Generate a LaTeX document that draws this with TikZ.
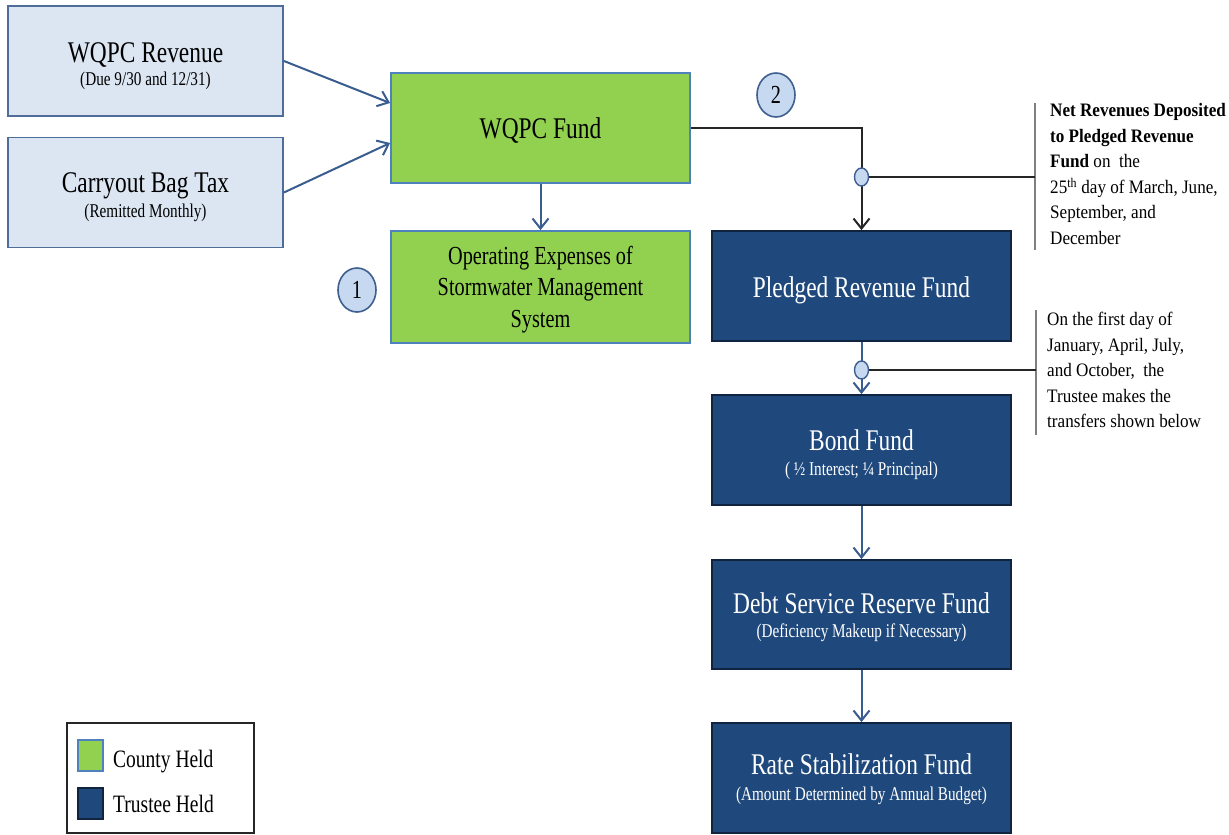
\documentclass[tikz,border=0pt]{standalone}
\usepackage{fontspec}
\setmainfont{Liberation Serif}[FakeStretch=0.78]
\newfontfamily\annfont{Liberation Serif}[FakeStretch=0.9]
\usetikzlibrary{arrows.meta,shapes.geometric}
\definecolor{lightfill}{HTML}{DCE6F2}
\definecolor{lightedge}{HTML}{4E6D98}
\definecolor{greenfill}{HTML}{92D050}
\definecolor{greenedge}{HTML}{4F81BD}
\definecolor{navy}{HTML}{1F497D}
\definecolor{navyedge}{HTML}{10243F}
\definecolor{circfill}{HTML}{C6D9F1}
\definecolor{circedge}{HTML}{3F5F8F}
\definecolor{arrowblue}{HTML}{3A5D8F}
\definecolor{darkline}{HTML}{262626}
\definecolor{barline}{HTML}{808080}
\tikzset{
  box/.style={rectangle, inner sep=0pt, line width=1.8pt},
  lbox/.style={box, fill=lightfill, draw=lightedge, minimum width=275pt, minimum height=110pt},
  gbox/.style={box, fill=greenfill, draw=greenedge, minimum width=299pt, minimum height=111pt},
  nbox/.style={box, fill=navy, draw=navyedge, minimum width=299pt, minimum height=110pt},
  title/.style={inner sep=0pt, anchor=base, font=\fontsize{30}{34}\selectfont},
  sub/.style={inner sep=0pt, anchor=base, font=\fontsize{19.5}{22}\selectfont},
  optext/.style={inner sep=0pt, anchor=base, font=\fontsize{26}{30}\selectfont},
  numcirc/.style={ellipse, fill=circfill, draw=circedge, line width=1.6pt, minimum width=38pt, minimum height=44pt, inner sep=0pt, font=\fontsize{26}{28}\selectfont},
  junc/.style={ellipse, fill=circfill, draw=circedge, line width=1.4pt, minimum width=14pt, minimum height=18pt, inner sep=0pt},
  bluearrow/.style={draw=arrowblue, line width=2pt, -{Straight Barb[length=10pt,width=16pt,line width=2pt]}},
  blackarrow/.style={draw=darkline, line width=2pt, -{Straight Barb[length=10pt,width=16pt,line width=2pt]}},
  hline/.style={draw=darkline, line width=1.8pt},
  bar/.style={draw=barline, line width=1.5pt},
  ann/.style={inner sep=0pt, anchor=north west, align=left, font=\annfont\fontsize{19}{25.5}\selectfont},
  legtext/.style={inner sep=0pt, anchor=base west, font=\fontsize{25}{28}\selectfont}
}
\begin{document}
\begin{tikzpicture}[x=1pt,y=-1pt]
\useasboundingbox[fill=white] (0,0) rectangle (1229,835);

% source boxes
\node[lbox] (rev) at (145.5,61) {};
\node[title] (trev) at (145.5,62) {WQPC Revenue};
\node[sub] (srev) at (145.5,85) {(Due 9/30 and 12/31)};
\node[lbox] (bag) at (145.5,192.5) {};
\node[title] (tbag) at (145.5,192) {Carryout Bag Tax};
\node[sub] (sbag) at (145.5,217) {(Remitted Monthly)};

% county boxes
\node[gbox, minimum height=110pt] (fund) at (540.5,128) {};
\node[title] (tfund) at (540.5,138) {WQPC Fund};
\node[gbox, minimum height=112pt] (opex) at (540.5,287) {};
\node[optext] (op1) at (540.5,264) {Operating Expenses of};
\node[optext] (op2) at (540.5,295.5) {Stormwater Management};
\node[optext] (op3) at (540.5,327) {System};

% trustee boxes
\node[nbox] (pledged) at (861.5,286) {};
\node[title, text=white] (tpledged) at (861.5,297) {Pledged Revenue Fund};
\node[nbox] (bond) at (861.5,450) {};
\node[title, text=white] (tbond) at (861.5,450) {Bond Fund};
\node[sub, text=white] (sbond) at (861.5,475) {( \textonehalf{} Interest; \textonequarter{}  Principal)};
\node[nbox, minimum height=109pt] (debt) at (861.5,614.5) {};
\node[title, text=white] (tdebt) at (861.5,613) {Debt Service Reserve Fund};
\node[sub, text=white] (sdebt) at (861.5,637) {(Deficiency Makeup if Necessary)};
\node[nbox] (rate) at (861.5,778) {};
\node[title, text=white] (trate) at (861.5,774) {Rate Stabilization Fund};
\node[sub, text=white] (srate) at (861.5,800) {(Amount Determined by Annual Budget)};

% numbered circles
\node[numcirc] (c1) at (357,290) {1};
\node[numcirc] (c2) at (776,95) {2};

% connectors
\draw[bluearrow] (rev.east) -- ([yshift=25pt]fund.west);
\draw[bluearrow] (bag.east) -- ([yshift=-15pt]fund.west);
\draw[bluearrow] (fund.south) -- (opex.north);
\draw[blackarrow] (fund.east) -| (pledged.north);
\draw[bluearrow] (pledged.south) -- (bond.north);
\draw[bluearrow] (bond.south) -- (debt.north);
\draw[bluearrow] (debt.south) -- (rate.north);

% junctions and annotation brackets
\coordinate (b1t) at (1035,103);
\coordinate (b1m) at (1035,177);
\coordinate (b1b) at (1035,250);
\coordinate (b2t) at (1036,310);
\coordinate (b2m) at (1036,370);
\coordinate (b2b) at (1036,435);
\draw[bar] (b1t) -- (b1b);
\draw[bar] (b2t) -- (b2b);
\node[junc] (j1) at (861.5,177) {};
\node[junc] (j2) at (861.5,370) {};
\draw[hline] (j1.east) -- (b1m);
\draw[hline] (j2.east) -- (b2m);

\node[ann] (ann1) at (1050,103.5) {\textbf{Net Revenues Deposited}\\\textbf{to Pledged Revenue}\\\textbf{Fund} on\ \ the\\25\textsuperscript{th} day of March, June,\\September, and\\December};
\node[ann] (ann2) at (1047,312) {On the first day of\\January, April, July,\\and October,\ \ the\\Trustee makes the\\transfers shown below};

% legend
\node[rectangle, draw=darkline, line width=1.5pt, minimum width=187pt, minimum height=110pt, inner sep=0pt] (legend) at (160.5,778) {};
\node[rectangle, fill=greenfill, draw=greenedge, line width=1.5pt, minimum width=25pt, minimum height=31pt, inner sep=0pt] (lgreen) at (90.5,755.5) {};
\node[rectangle, fill=navy, draw=navyedge, line width=1.5pt, minimum width=25pt, minimum height=31pt, inner sep=0pt] (lnavy) at (90.5,803.5) {};
\node[legtext] (lcounty) at (113,767) {County Held};
\node[legtext] (ltrustee) at (113,812) {Trustee Held};
\end{tikzpicture}
\end{document}
